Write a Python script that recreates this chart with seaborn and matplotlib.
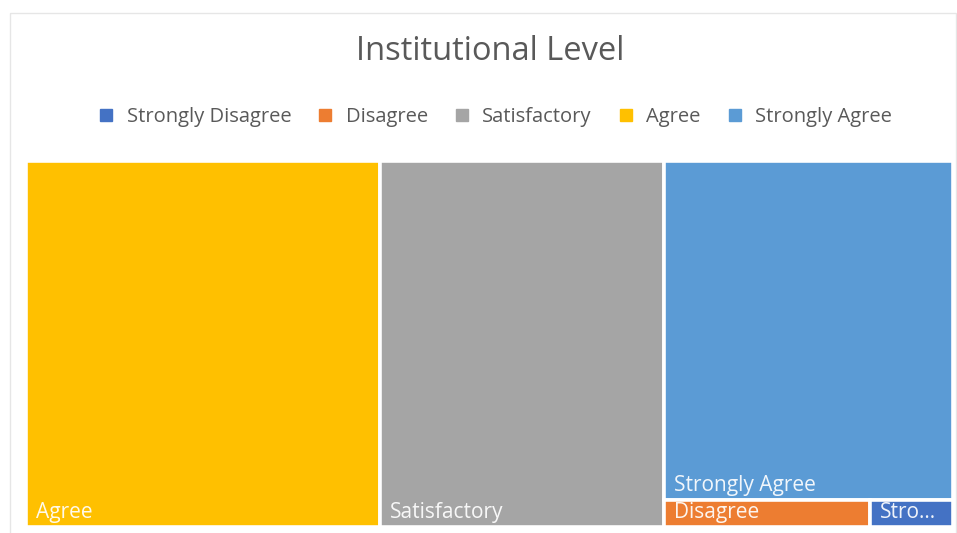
import matplotlib
matplotlib.use("Agg")
import matplotlib.pyplot as plt
from matplotlib.patches import Rectangle
from matplotlib.lines import Line2D
import seaborn as sns

# Response categories (legend order) and counts
categories = ["Strongly Disagree", "Disagree", "Satisfactory", "Agree", "Strongly Agree"]
counts = [2, 5, 92, 115, 87]
colors = ["#4472C4", "#ED7D31", "#A5A5A5", "#FFC000", "#5B9BD5"]
title = "Institutional Level"

sns.set_theme(style="white")
plt.rcParams["font.family"] = ["Open Sans", "DejaVu Sans"]

W, H = 957, 533
fig = plt.figure(figsize=(W / 100, H / 100), dpi=100)

# light chart-area frame
bg = fig.add_axes([0, 0, 1, 1])
bg.set_xlim(0, W)
bg.set_ylim(H, 0)
bg.axis("off")
bg.add_patch(Rectangle((9.5, 12.5), 946, 540, fill=False, ec="#E6E6E6", lw=1))

# plot area of the treemap, in pixel units
x0, y0, pw, ph = 26, 161, 927, 366
ax = fig.add_axes([x0 / W, (H - y0 - ph) / H, pw / W, ph / H])
ax.set_xlim(0, pw)
ax.set_ylim(ph, 0)
ax.axis("off")


def worst(row, length):
    s = sum(row)
    return max(max(length * length * r / (s * s), (s * s) / (length * length * r)) for r in row)


def squarify(values, x, y, w, h):
    """Squarified treemap layout; values must be sorted descending and scaled to area."""
    rects = []
    vals = list(values)
    while vals:
        length = min(w, h)
        row = [vals.pop(0)]
        while vals and worst(row + [vals[0]], length) <= worst(row, length):
            row.append(vals.pop(0))
        s = sum(row)
        if w >= h:
            cw = s / h
            cy = y
            for r in row:
                rh = r / cw
                rects.append((x, cy, cw, rh))
                cy += rh
            x += cw
            w -= cw
        else:
            rh = s / w
            cx = x
            for r in row:
                rw = r / rh
                rects.append((cx, y, rw, rh))
                cx += rw
            y += rh
            h -= rh
    return rects


order = sorted(range(len(counts)), key=lambda i: -counts[i])
total = sum(counts)
areas = [counts[i] / total * pw * ph for i in order]
rects = squarify(areas, 0, 0, pw, ph)

fig.canvas.draw()
renderer = fig.canvas.get_renderer()

for idx, (rx, ry, rw, rh) in zip(order, rects):
    ax.add_patch(Rectangle((rx, ry), rw, rh, fc=colors[idx], ec="white", lw=2.6))
    label = categories[idx]
    t = ax.text(rx + 10, ry + rh - 4, label, color="white", fontsize=15,
                ha="left", va="bottom", alpha=0.92)
    avail = rw - 18
    if t.get_window_extent(renderer).width > avail:
        n = len(label)
        while n > 0:
            t.set_text(label[:n] + "...")
            if t.get_window_extent(renderer).width <= avail:
                break
            n -= 1

fig.text(490 / W, 1 - 51 / H, title, ha="center", va="center",
         fontsize=23.5, color="#595959")

handles = [Line2D([], [], marker="s", ls="", markersize=8, markerfacecolor=c,
                  markeredgecolor=c) for c in colors]
fig.legend(handles, categories, loc="center", bbox_to_anchor=(494 / W, 1 - 117 / H),
           ncol=5, frameon=False, fontsize=14.5, labelcolor="#595959",
           handletextpad=0.5, columnspacing=1.2, handlelength=1.0)

fig.savefig("out.png", dpi=100, facecolor="white")
